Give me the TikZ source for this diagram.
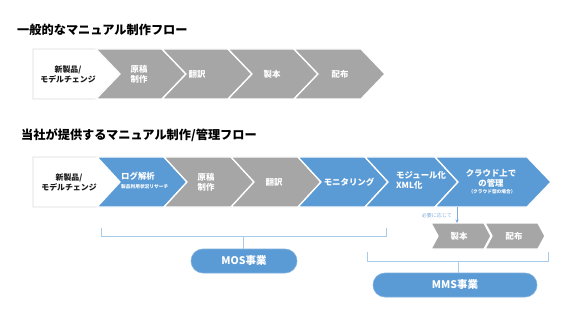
\documentclass[tikz,border=0pt]{standalone}
\usepackage{fontspec}
\setmainfont{Noto Sans CJK JP}
\usetikzlibrary{arrows.meta}
\definecolor{cgrey}{HTML}{A6A6A6}
\definecolor{cblue}{HTML}{5B9BD5}
\definecolor{cbrk}{HTML}{A9CBEA}
\definecolor{cedge}{HTML}{D9D9D9}
\definecolor{ctxt}{HTML}{1A1A1A}
\definecolor{cnote}{HTML}{7DA9DA}
% style, L, R, T, B, tip depth, notch depth
\newcommand\chevshape[7]{%
  \path[#1] (#2,#4) -- (#3,#4) -- ({#3+#6},{(#4+#5)/2}) -- (#3,#5) -- (#2,#5)
    -- ({#2+#7},{(#4+#5)/2}) -- cycle;}
\begin{document}
\begin{tikzpicture}[x=1pt,y=-1pt,
  chevgrey/.style={fill=cgrey, draw=white, line width=1.3pt},
  chevblue/.style={fill=cblue, draw=white, line width=1.3pt},
  startbox/.style={fill=white, draw=cedge, line width=0.8pt},
  lbl/.style={font=\bfseries\fontsize{8.4}{10}\selectfont, text=white, align=center, inner sep=0pt},
  lblleft/.style={lbl, align=left, anchor=west},
  startlbl/.style={font=\bfseries\fontsize{7.9}{10}\selectfont, text=ctxt, align=center, inner sep=0pt},
  sublbl/.style={font=\bfseries\fontsize{4.7}{5.5}\selectfont, text=white, inner sep=0pt},
  title/.style={font=\bfseries\fontsize{12.2}{14}\selectfont, anchor=west, inner sep=0pt, text=black},
  brk/.style={draw=cbrk, line width=0.8pt},
  pill/.style={fill=cblue, draw=cblue!80!white, line width=0.6pt, rounded corners=12pt, minimum height=24pt,
    text=white, font=\bfseries\fontsize{10.5}{12}\selectfont, inner sep=0pt},
  note/.style={font=\fontsize{5}{6}\selectfont, text=cnote, inner sep=0pt, anchor=east}
]
\useasboundingbox (0,0) rectangle (565,318);

% ---------- titles
\node[title] (t1) at (17,30) {一般的なマニュアル制作フロー};
\node[title] (t2) at (21,135) {当社が提供するマニュアル制作/管理フロー};

% ---------- row 1
\chevshape{startbox}{33}{96}{49}{99}{24}{0}
\chevshape{chevgrey}{96}{162}{49}{99}{24}{24}
\chevshape{chevgrey}{162}{228}{49}{99}{24}{24}
\chevshape{chevgrey}{228}{294}{49}{99}{24}{24}
\chevshape{chevgrey}{294}{361}{49}{99}{24}{24}
\node[startlbl] (r1a) at (68,74) {新製品/\\モデルチェンジ};
\node[lbl] (r1b) at (139,74) {原稿\\制作};
\node[lbl] (r1c) at (197,74) {翻訳};
\node[lbl] (r1d) at (272,74) {製本};
\node[lbl] (r1e) at (340,74) {配布};

% ---------- row 2
\chevshape{startbox}{33}{97}{157}{207}{23}{0}
\chevshape{chevblue}{97}{164}{157}{207}{23}{23}
\chevshape{chevgrey}{164}{231}{157}{207}{23}{23}
\chevshape{chevgrey}{231}{298}{157}{207}{23}{23}
\chevshape{chevblue}{298}{365}{157}{207}{23}{23}
\chevshape{chevblue}{365}{435}{157}{207}{23}{23}
\chevshape{chevblue}{435}{527}{157}{207}{24}{23}
\node[startlbl] (r2a) at (69,182) {新製品/\\モデルチェンジ};
\node[lblleft] (r2b) at (121,176.5) {ログ解析};
\node[sublbl, anchor=west] (r2bs) at (121,186.5) {製品利用状況リサーチ};
\node[lbl] (r2c) at (206,182) {原稿\\制作};
\node[lbl] (r2d) at (274,182) {翻訳};
\node[lbl] (r2e) at (349,182) {モニタリング};
\node[lblleft] (r2f) at (396,180) {モジュール化\\XML化};
\node[lbl] (r2g) at (491,178) {クラウド上で\\の管理};
\node[sublbl] (r2gs) at (492,191.5) {（クラウド型の場合）};

% ---------- optional steps
\chevshape{chevgrey}{431}{484}{223}{249}{7}{7}
\chevshape{chevgrey}{485}{538}{223}{249}{7}{7}
\node[lbl] (s1) at (459,236) {製本};
\node[lbl] (s2) at (514,236) {配布};
\coordinate (a1) at (457,207);
\coordinate (a2) at (457,223);
\draw[draw=cnote, line width=0.7pt, -{Stealth[length=3.5pt,width=3pt]}] (a1) -- (a2);
\node[note] (nt) at (452,215.5) {必要に応じて};

% ---------- MOS bracket
\node[pill, minimum width=106pt] (mos) at (244,261) {MOS事業};
\coordinate (b1l) at (101,228);
\coordinate (b1r) at (386,228);
\coordinate (b1c) at (243,236);
\draw[brk] (b1l) -- (101,236) -- (386,236) -- (b1r);
\draw[brk] (b1c) -- (b1c |- mos.north);

% ---------- MMS bracket
\node[pill, minimum width=164pt] (mms) at (455,285) {MMS事業};
\coordinate (b2l) at (367,252);
\coordinate (b2r) at (548,252);
\coordinate (b2c) at (458,261);
\draw[brk] (b2l) -- (367,261) -- (548,261) -- (b2r);
\draw[brk] (b2c) -- (b2c |- mms.north);
\end{tikzpicture}
\end{document}
